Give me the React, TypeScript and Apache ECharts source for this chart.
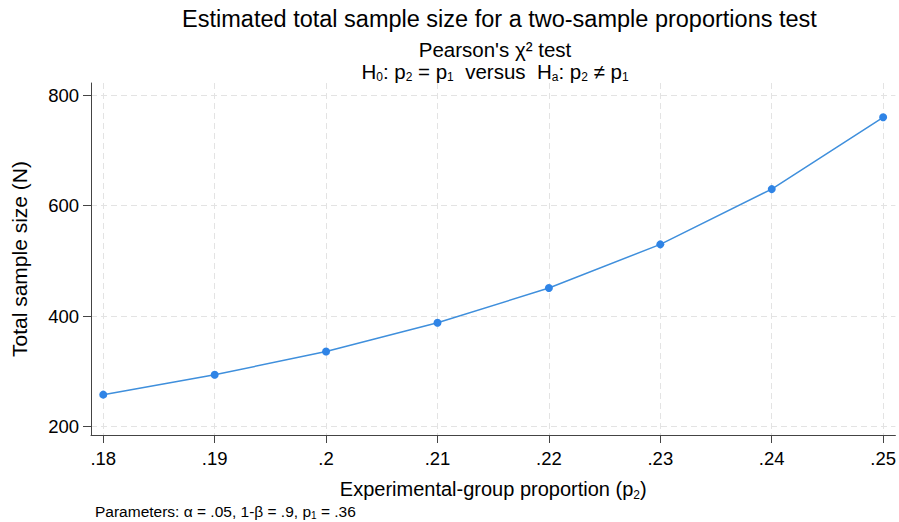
import React, { useEffect, useRef } from "react";
import * as echarts from "echarts";

const proportions = [0.18, 0.19, 0.2, 0.21, 0.22, 0.23, 0.24, 0.25];
const sampleSizes = [258, 294, 336, 388, 451, 530, 630, 760];
const xTicks = [0.18, 0.19, 0.2, 0.21, 0.22, 0.23, 0.24, 0.25];
const yTicks = [200, 400, 600, 800];

const FONT = "'Liberation Sans', Arial, Helvetica, sans-serif";

export default function App() {
  const ref = useRef<HTMLDivElement>(null);
  useEffect(() => {
    if (!ref.current) return;
    const chart = echarts.init(ref.current, null, { renderer: "svg" });
    const data = proportions.map((p, i) => [p, sampleSizes[i]]);
    const fmtX = (v: number) => String(Number(v.toFixed(2))).replace(/^0\./, ".");
    chart.setOption({
      animation: false,
      backgroundColor: "#ffffff",
      textStyle: { fontFamily: FONT },
      grid: { left: 91, right: 2, top: 83, bottom: 87, containLabel: false },
      xAxis: {
        type: "value",
        min: 0.1789,
        max: 0.2511,
        name: "{n|Experimental-group proportion (p}{s|2}{n|)}",
        nameLocation: "middle",
        nameGap: 44,
        nameTextStyle: {
          fontSize: 20,
          color: "#000",
          fontFamily: FONT,
          rich: {
            n: { fontSize: 20, color: "#000", fontFamily: FONT },
            s: { fontSize: 12, lineHeight: 12, padding: [11, 0, 0, 0], color: "#000", fontFamily: FONT },
          },
        },
        axisLine: { show: true, onZero: false, lineStyle: { color: "#444", width: 1 } },
        axisTick: { show: true, inside: false, length: 8, customValues: xTicks, lineStyle: { color: "#444" } },
        axisLabel: { customValues: xTicks, formatter: fmtX, fontSize: 18.5, color: "#000", margin: 14, fontFamily: FONT },
        splitLine: { show: true, lineStyle: { color: "#e3e3e3", type: [6, 4], width: 1 } },
      },
      yAxis: {
        type: "value",
        min: 185,
        max: 822,
        name: "Total sample size (N)",
        nameLocation: "middle",
        nameGap: 61,
        nameTextStyle: { fontSize: 21, color: "#000", fontFamily: FONT },
        axisLine: { show: true, onZero: false, lineStyle: { color: "#444", width: 1 } },
        axisTick: { show: true, inside: false, length: 8, customValues: yTicks, lineStyle: { color: "#444" } },
        axisLabel: { customValues: yTicks, fontSize: 18.5, color: "#000", margin: 12, fontFamily: FONT },
        splitLine: { show: true, lineStyle: { color: "#e3e3e3", type: [6, 4], width: 1 } },
      },
      series: [
        {
          type: "line",
          data,
          symbol: "circle",
          symbolSize: 8,
          lineStyle: { color: "#3f8fdc", width: 1.5 },
          itemStyle: { color: "#2f84e6" },
        },
      ],
      graphic: [
        {
          type: "text",
          x: 499.5,
          y: 19,
          style: {
            text: "Estimated total sample size for a two-sample proportions test",
            fontSize: 23.5,
            fill: "#000",
            align: "center",
            verticalAlign: "middle",
            fontFamily: FONT,
          },
        },
        {
          type: "text",
          x: 495,
          y: 49.5,
          style: {
            text: "Pearson's χ² test",
            fontSize: 20.5,
            fill: "#000",
            align: "center",
            verticalAlign: "middle",
            fontFamily: FONT,
          },
        },
        {
          type: "text",
          x: 495,
          y: 71,
          style: {
            text: "{n|H}{s|0}{n|: p}{s|2}{n| = p}{s|1}{n|  versus  H}{s|a}{n|: p}{s|2}{n| ≠ p}{s|1}",
            align: "center",
            verticalAlign: "middle",
            fontFamily: FONT,
            rich: {
              n: { fontSize: 20.5, fill: "#000", fontFamily: FONT },
              s: { fontSize: 12, lineHeight: 12, padding: [11, 0, 0, 0], fill: "#000", fontFamily: FONT },
            },
          },
        },
        {
          type: "text",
          x: 95,
          y: 511,
          style: {
            text: "{n|Parameters: α = .05, 1-β = .9, p}{s|1}{n| = .36}",
            align: "left",
            verticalAlign: "middle",
            fontFamily: FONT,
            rich: {
              n: { fontSize: 15.5, fill: "#000", fontFamily: FONT },
              s: { fontSize: 10, lineHeight: 10, padding: [8, 0, 0, 0], fill: "#000", fontFamily: FONT },
            },
          },
        },
      ],
    });
    return () => chart.dispose();
  }, []);
  return <div ref={ref} style={{ width: 899, height: 522, position: "absolute", left: 0, top: 0 }} />;
}
